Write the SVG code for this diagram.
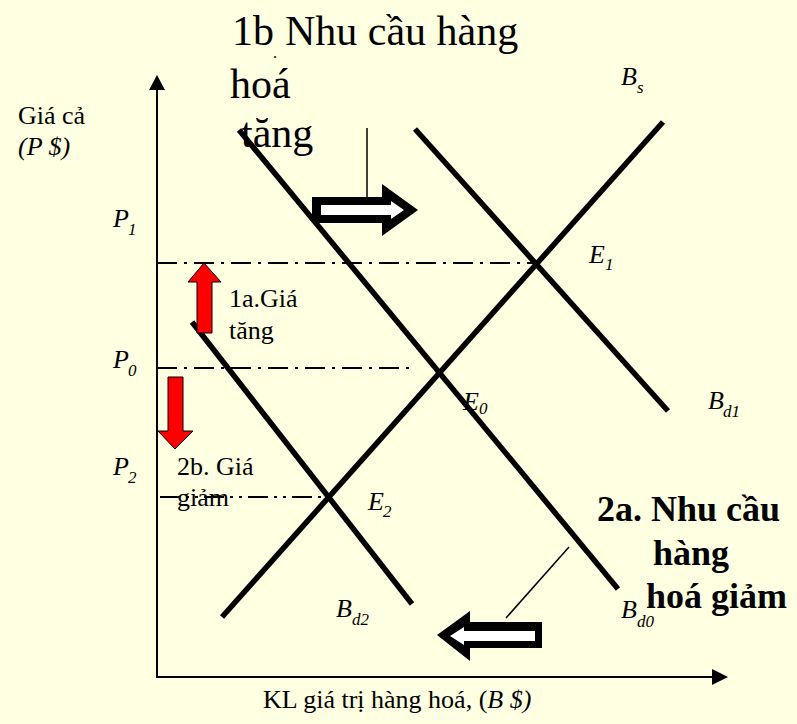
<svg xmlns="http://www.w3.org/2000/svg" width="797" height="724" viewBox="0 0 797 724">
<style>
text{font-family:"Liberation Serif","Times New Roman",serif;fill:#000}
.lbl{font-size:26px}
.it{font-style:italic}
.sub{font-size:17px;font-style:italic}
.big{font-size:42px}
.bold{font-size:36px;font-weight:bold}
.curve{stroke:#000;stroke-width:5.5;fill:none}
.axis{stroke:#000;stroke-width:2;fill:none}
.thin{stroke:#000;stroke-width:1.5;fill:none}
.dash{stroke:#000;stroke-width:2;fill:none;stroke-dasharray:20 7 3 7}
.dash2{stroke:#000;stroke-width:2;fill:none;stroke-dasharray:20 6 3 6 3 6}
.red{fill:#FF0000;stroke:#000;stroke-width:1}
</style>
<rect x="0" y="0" width="797" height="724" fill="#FFFFE1"/>

<g id="axes">
<line class="axis" x1="157" y1="86" x2="157" y2="677"/>
<polygon points="157,75 149,90 165,90" fill="#000"/>
<line class="axis" x1="156" y1="677" x2="716" y2="677"/>
<polygon points="728,677 712,669 712,685" fill="#000"/>
</g>

<g id="guides">
<line class="dash" x1="157" y1="263" x2="536" y2="263"/>
<line class="dash" x1="157" y1="368" x2="415" y2="368"/>
<line class="dash2" x1="160" y1="497" x2="328" y2="497"/>
</g>

<g id="curves">
<line id="Bs" class="curve" x1="222" y1="617" x2="663" y2="122"/>
<line id="Bd1" class="curve" x1="415" y1="129" x2="668" y2="411"/>
<line id="Bd0" class="curve" x1="239" y1="130" x2="618" y2="589"/>
<line id="Bd2" class="curve" x1="192" y1="322" x2="412" y2="604"/>
</g>

<g id="connectors">
<line class="thin" x1="367" y1="128" x2="367" y2="197"/>
<line class="thin" x1="569" y1="547" x2="506" y2="618"/>
</g>

<g id="arrow-right">
<polygon points="312,197 382,197 382,184 418,210 382,236 382,223 312,223" fill="#000"/>
<polygon points="321,205 391,205 391,201 404,210 391,219 391,215 321,215" fill="#FFFFFF"/>
</g>
<g id="arrow-left">
<polygon points="437,635 470,611 470,622 542,622 542,648 470,648 470,661" fill="#000"/>
<polygon points="450,636 464,627 464,631 535,631 535,641 464,641 464,645" fill="#FFFFFF"/>
</g>
<g id="arrow-up">
<polygon class="red" points="204,263 221,282 212,282 212,333 197,333 197,282 188,282"/>
</g>
<g id="arrow-down">
<polygon class="red" points="168,377 183,377 183,431 193,431 175,449 158,431 168,431"/>
</g>

<g id="title-1b">
<text class="big" x="232" y="45">1b</text>
<text x="273" y="58" style="font-size:16px">.</text>
<text class="big" x="285" y="45">Nhu cầu hàng</text>
<text class="big" x="230" y="98">hoá</text>
<text class="big" x="241" y="147">tăng</text>
</g>

<g id="title-2a">
<text class="bold" x="597" y="521">2a. Nhu cầu</text>
<text class="bold" x="653" y="565">hàng</text>
<text class="bold" x="646" y="608">hoá giảm</text>
</g>

<g id="axis-labels">
<text class="lbl" x="18" y="124">Giá cả</text>
<text class="lbl it" x="18" y="155">(P $)</text>
<text class="lbl" x="263" y="708">KL giá trị hàng hoá, (<tspan class="it">B $)</tspan></text>
</g>

<g id="price-labels">
<text class="lbl it" x="113" y="227">P</text><text class="sub" x="128" y="235">1</text>
<text class="lbl it" x="113" y="368">P</text><text class="sub" x="128" y="376">0</text>
<text class="lbl it" x="113" y="475">P</text><text class="sub" x="128" y="483">2</text>
</g>

<g id="change-labels">
<text class="lbl" x="229" y="307">1a.Giá</text>
<text class="lbl" x="229" y="339">tăng</text>
<text class="lbl" x="177" y="475">2b. Giá</text>
<text class="lbl" x="177" y="506">giảm</text>
</g>

<g id="point-labels">
<text class="lbl it" x="589" y="263">E</text><text class="sub" x="605" y="270">1</text>
<text class="lbl it" x="463" y="410">E</text><text class="sub" x="479" y="414">0</text>
<text class="lbl it" x="368" y="510">E</text><text class="sub" x="383" y="517">2</text>
</g>

<g id="curve-labels">
<text class="lbl it" x="621" y="85">B</text><text class="sub" x="637" y="93">s</text>
<text class="lbl it" x="708" y="409">B</text><text class="sub" x="723" y="417">d1</text>
<text class="lbl it" x="336" y="617">B</text><text class="sub" x="352" y="625">d2</text>
<text class="lbl it" x="621" y="618">B</text><text class="sub" x="637" y="627">d0</text>
</g>
</svg>
